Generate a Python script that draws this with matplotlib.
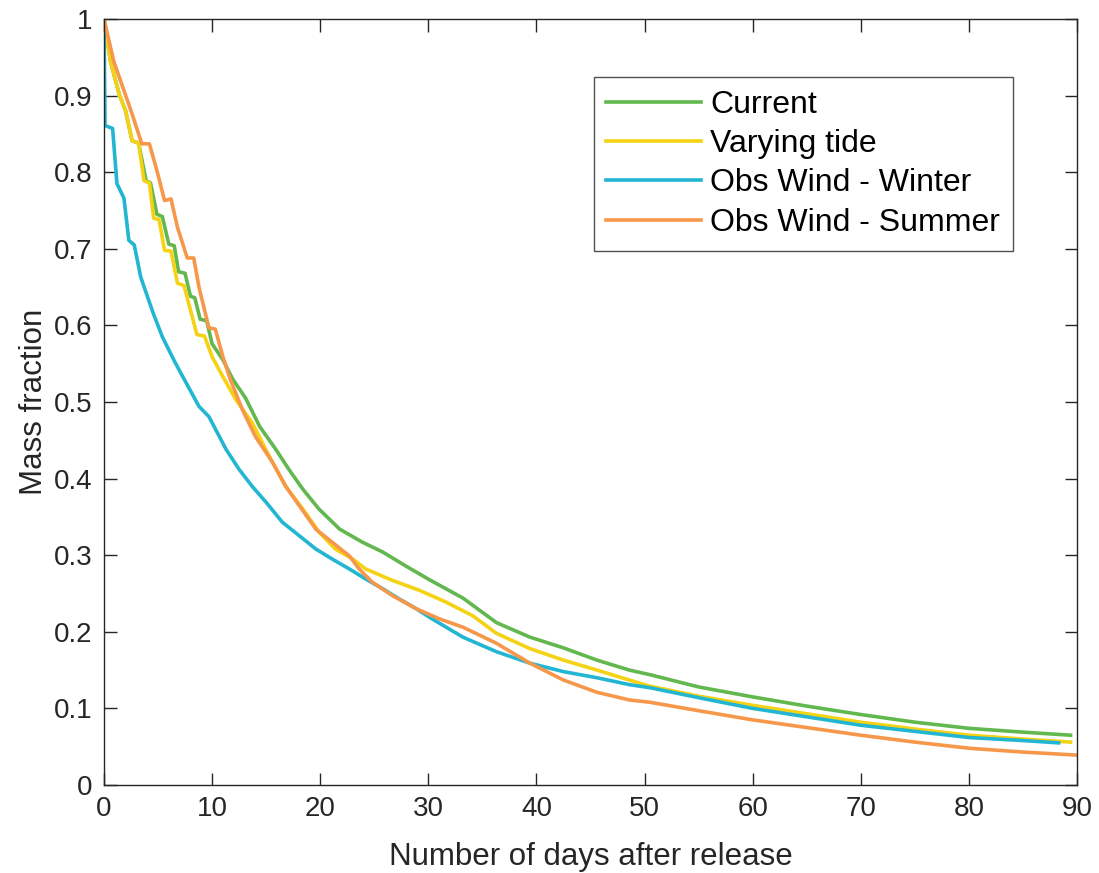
import matplotlib.pyplot as plt
import numpy as np

plt.rcParams['font.family'] = ['Liberation Sans', 'DejaVu Sans']

# Current
days_current = [0, 0.6, 1.4, 2.0, 2.6, 3.2, 3.9, 4.3, 4.9, 5.4, 6.0, 6.5, 6.9, 7.5, 8.0, 8.4,
                8.9, 9.5, 10.0, 11.0, 11.9, 13.1, 14.4, 15.9, 17.1, 18.4, 19.9, 21.8, 23.9,
                25.8, 27.9, 30.1, 33.2, 36.3, 39.4, 42.5, 45.6, 48.6, 50.5, 55, 60, 65, 70,
                75, 80, 85, 89.4]
mass_current = [1.0, 0.945, 0.902, 0.88, 0.841, 0.838, 0.789, 0.786, 0.745, 0.742, 0.706,
                0.704, 0.670, 0.668, 0.638, 0.636, 0.608, 0.606, 0.576, 0.555, 0.53, 0.505,
                0.468, 0.438, 0.412, 0.386, 0.36, 0.334, 0.317, 0.304, 0.286, 0.268, 0.244,
                0.212, 0.193, 0.179, 0.163, 0.15, 0.144, 0.128, 0.115, 0.103, 0.092, 0.082,
                0.074, 0.069, 0.065]

# Varying tide
days_tide = [0, 0.6, 1.4, 2.0, 2.6, 3.2, 3.7, 4.2, 4.6, 5.1, 5.6, 6.2, 6.8, 7.4, 8.0, 8.6,
             9.3, 10.0, 11.0, 12.2, 13.7, 15.3, 16.8, 18.4, 19.9, 21.4, 23.0, 24.2, 26.7,
             29.2, 31.6, 34.1, 36.3, 39.4, 42.5, 45.6, 48.6, 50.5, 55, 60, 65, 70, 75, 80,
             85, 89.4]
mass_tide = [1.0, 0.945, 0.902, 0.88, 0.841, 0.838, 0.789, 0.786, 0.74, 0.738, 0.698, 0.697,
             0.655, 0.652, 0.62, 0.588, 0.586, 0.559, 0.533, 0.503, 0.473, 0.429, 0.39, 0.36,
             0.33, 0.308, 0.295, 0.282, 0.267, 0.254, 0.239, 0.221, 0.198, 0.178, 0.163,
             0.15, 0.137, 0.129, 0.116, 0.104, 0.093, 0.082, 0.073, 0.065, 0.06, 0.056]

# Obs Wind - Winter
days_winter = [0, 0.1, 0.8, 1.2, 1.85, 2.3, 2.8, 3.4, 4.5, 5.4, 6.6, 7.6, 8.8, 9.7, 11.3,
               12.5, 13.7, 15.0, 16.5, 18.1, 19.6, 21.1, 22.7, 24.2, 25.8, 27.3, 28.9, 30.1,
               33.2, 36.3, 39.4, 42.5, 45.6, 48.6, 50.5, 55, 60, 65, 70, 75, 80, 85, 88.3]
mass_winter = [1.0, 0.861, 0.857, 0.785, 0.766, 0.711, 0.705, 0.663, 0.618, 0.585, 0.551,
               0.525, 0.494, 0.481, 0.438, 0.412, 0.39, 0.369, 0.343, 0.325, 0.308, 0.295,
               0.282, 0.269, 0.256, 0.243, 0.23, 0.219, 0.193, 0.174, 0.159, 0.148, 0.14,
               0.131, 0.127, 0.114, 0.1, 0.089, 0.078, 0.07, 0.062, 0.058, 0.055]

# Obs Wind - Summer
days_summer = [0, 0.9, 2.6, 3.5, 4.2, 4.9, 5.6, 6.2, 6.8, 7.7, 8.3, 8.8, 9.7, 10.3, 11.0,
               11.7, 12.8, 14.0, 15.6, 16.8, 18.1, 19.6, 21.1, 22.7, 23.6, 24.8, 26.7, 28.9,
               31.0, 33.2, 36.3, 39.4, 42.5, 45.6, 48.6, 50.5, 55, 60, 65, 70, 75, 80, 85, 90]
mass_summer = [1.0, 0.945, 0.876, 0.837, 0.837, 0.802, 0.763, 0.765, 0.728, 0.688, 0.688,
               0.649, 0.597, 0.595, 0.559, 0.529, 0.49, 0.455, 0.421, 0.39, 0.364, 0.334,
               0.317, 0.299, 0.282, 0.265, 0.247, 0.23, 0.217, 0.206, 0.185, 0.159, 0.137,
               0.121, 0.111, 0.108, 0.097, 0.085, 0.075, 0.065, 0.056, 0.048, 0.043, 0.039]

fig = plt.figure(figsize=(10.99, 8.73), dpi=100)
ax = fig.add_axes([0.0946, 0.1008, 0.8854, 0.8775])

lw = 2.6
ax.plot(days_current, mass_current, color='#62B84E', lw=lw, label='Current')
ax.plot(days_tide, mass_tide, color='#F5D214', lw=lw, label='Varying tide')
ax.plot(days_winter, mass_winter, color='#22B6D2', lw=lw, label='Obs Wind - Winter')
ax.plot(days_summer, mass_summer, color='#F7974A', lw=lw, label='Obs Wind - Summer')

ax.set_xlim(0, 90)
ax.set_ylim(0, 1)
ax.set_xticks(np.arange(0, 91, 10))
ax.set_yticks(np.arange(0, 1.01, 0.1))
ax.set_yticklabels(['0', '0.1', '0.2', '0.3', '0.4', '0.5', '0.6', '0.7', '0.8', '0.9', '1'])
ax.tick_params(direction='in', length=9, width=1, top=True, right=True,
               labelsize=20, colors='#262626', pad=8)
for s in ax.spines.values():
    s.set_color('#262626')
    s.set_linewidth(1)

ax.set_xlabel('Number of days after release', fontsize=22.5, color='#262626', labelpad=14)
ax.set_ylabel('Mass fraction', fontsize=22.5, color='#262626', labelpad=4)

leg = ax.legend(loc='upper right', bbox_to_anchor=(0.934, 0.924), fontsize=23,
                frameon=True, fancybox=False, handlelength=2.95, handletextpad=0.3,
                labelspacing=0.29, borderpad=0.4, borderaxespad=0)
leg.get_frame().set_edgecolor('#262626')
leg.get_frame().set_linewidth(1)

fig.savefig('out.png', dpi=100)
